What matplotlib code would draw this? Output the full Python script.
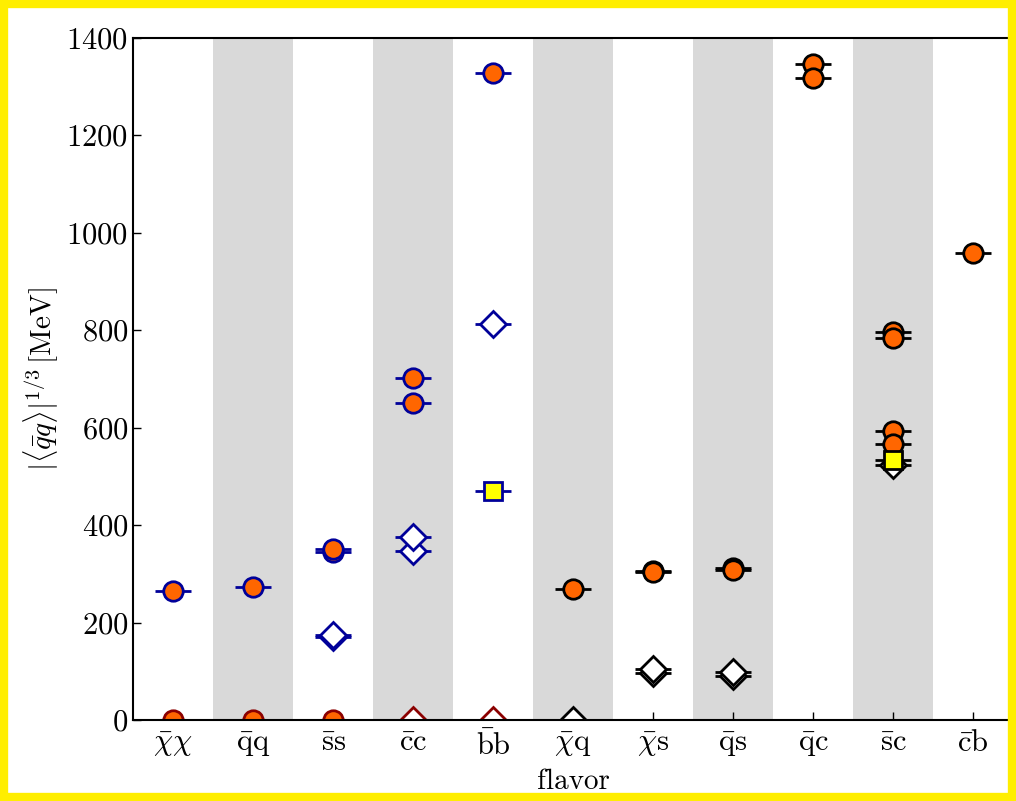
import matplotlib
matplotlib.use('Agg')
import matplotlib.pyplot as plt
from matplotlib.patches import Rectangle

plt.rcParams['font.family'] = 'serif'
plt.rcParams['font.serif'] = ['cmr10', 'DejaVu Serif']
plt.rcParams['mathtext.fontset'] = 'cm'
plt.rcParams['axes.formatter.use_mathtext'] = True

# flavour labels on the x axis
flavors = [r'$\bar{\chi}\chi$', r'$\bar{\mathrm{q}}\mathrm{q}$', r'$\bar{\mathrm{s}}\mathrm{s}$',
           r'$\bar{\mathrm{c}}\mathrm{c}$', r'$\bar{\mathrm{b}}\mathrm{b}$', r'$\bar{\chi}\mathrm{q}$',
           r'$\bar{\chi}\mathrm{s}$', r'$\bar{\mathrm{q}}\mathrm{s}$', r'$\bar{\mathrm{q}}\mathrm{c}$',
           r'$\bar{\mathrm{s}}\mathrm{c}$', r'$\bar{\mathrm{c}}\mathrm{b}$']

# (flavor index, value in MeV)
blue_circ_x = [0, 1, 2, 2, 3, 3, 4]
blue_circ_y = [265, 273, 345, 352, 702, 651, 1328]
red_circ_x = [0, 1, 2]
red_circ_y = [0, 0, 0]
blue_diam_x = [2, 2, 3, 3, 4]
blue_diam_y = [171, 175, 347, 376, 813]
red_diam_x = [3, 4]
red_diam_y = [0, 0]
blue_sq_x = [4]
blue_sq_y = [470]
black_circ_x = [5, 6, 6, 7, 7, 8, 8, 9, 9, 9, 9, 10]
black_circ_y = [269, 306, 303, 311, 308, 1345, 1318, 797, 784, 593, 567, 958]
black_diam_x = [5, 6, 6, 7, 7, 9]
black_diam_y = [0, 96, 105, 91, 99, 524]
black_sq_x = [9]
black_sq_y = [534]

orange = '#FF6600'
blue = '#000099'
dred = '#8B0000'

fig = plt.figure(figsize=(10.16, 8.01), dpi=100)
ax = fig.add_axes([0.131, 0.101, 0.866, 0.852])

for i in range(len(flavors)):
    if i % 2 == 1:
        ax.axvspan(i - 0.5, i + 0.5, color='#D9D9D9', lw=0, zorder=0)

def draw(xs, ys, marker, fc, ec, ms, z):
    ax.errorbar(xs, ys, xerr=0.22, fmt=marker, mfc=fc, mec=ec, ecolor=ec,
                ms=ms, mew=2, elinewidth=2, capsize=0, zorder=z)

draw(red_circ_x, red_circ_y, 'o', orange, dred, 14, 3)
draw(red_diam_x, red_diam_y, 'D', 'white', dred, 13, 3)
draw(blue_diam_x, blue_diam_y, 'D', 'white', blue, 13, 3)
draw(blue_sq_x, blue_sq_y, 's', 'yellow', blue, 13, 3)
draw(blue_circ_x, blue_circ_y, 'o', orange, blue, 14, 3)
draw(black_diam_x, black_diam_y, 'D', 'white', 'black', 13, 3)
draw(black_circ_x, black_circ_y, 'o', orange, 'black', 14, 3)
draw(black_sq_x, black_sq_y, 's', 'yellow', 'black', 13, 3.5)

ax.set_xlim(-0.5, 10.5)
ax.set_ylim(0, 1400)
ax.set_xticks(range(len(flavors)))
ax.set_xticklabels(flavors)
ax.set_yticks(range(0, 1401, 200))
ax.tick_params(direction='in', length=6, width=1, labelsize=22, top=False, right=False)
ax.tick_params(axis='x', pad=7)
for s in ax.spines.values():
    s.set_linewidth(1.5)
    s.set_zorder(4)
ax.set_xlabel('flavor', fontsize=21, labelpad=6)
ax.set_ylabel(r'$|\langle\bar{q}q\rangle|^{1/3}\,[\mathrm{MeV}]$', fontsize=21, labelpad=4)

fig.add_artist(Rectangle((0.004, 0.005), 0.992, 0.99, transform=fig.transFigure,
                         fill=False, edgecolor='#FFEE00', lw=6))

fig.savefig('out.png', dpi=100)
